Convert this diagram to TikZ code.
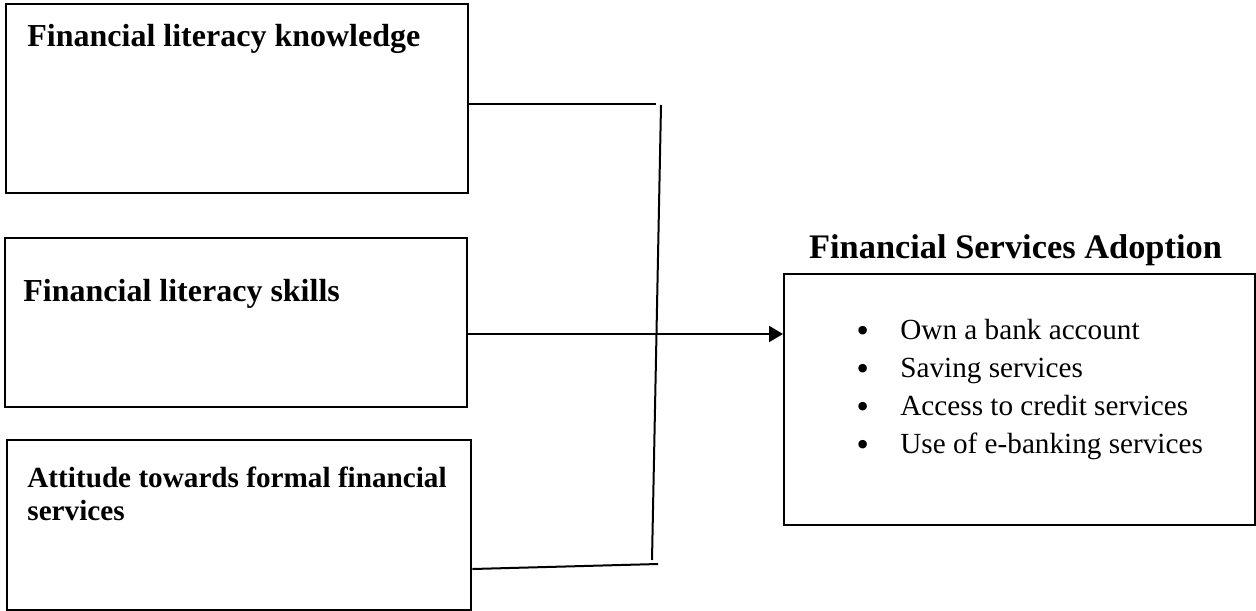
\documentclass[tikz,border=0pt]{standalone}
\usepackage{fontspec}
\setmainfont{Liberation Serif}
\newfontfamily\dejavu{DejaVu Sans}
\usetikzlibrary{arrows.meta}
\tikzset{
	box/.style={draw, line width=1.2pt, anchor=north west, inner sep=0pt},
	lbl/.style={anchor=base west, inner sep=0pt, font=\fontsize{16}{17.5}\selectfont\bfseries, align=left},
	item/.style={anchor=base west, inner sep=0pt, font=\fontsize{14.6}{18}\selectfont},
	link/.style={line width=1pt},
}
\newcommand{\bitem}[1]{\makebox[23pt][l]{\raisebox{-1.2pt}{\dejavu •}}#1}
\begin{document}
\begin{tikzpicture}[x=0.5pt,y=-0.5pt]
	\useasboundingbox (0,0) rectangle (1256,610);
	% left boxes
	\node (kn) [box, minimum width=231pt, minimum height=94.5pt] at (5,3) {};
	\node (kntxt) [lbl] at (27,47) {Financial literacy knowledge};
	\node (sk) [box, minimum width=231pt, minimum height=84.5pt] at (4,237) {};
	\node (sktxt) [lbl] at (23,301) {Financial literacy skills};
	\node (att) [box, minimum width=232pt, minimum height=85pt] at (6,439) {};
	\node (atttxt) [lbl, font=\fontsize{14.6}{16.5}\selectfont\bfseries] at (27,520) {Attitude towards formal financial\\services};
	% right box
	\node (ad) [box, minimum width=235.5pt, minimum height=125.5pt] at (783,273) {};
	\node (adtitle) [anchor=base, inner sep=0pt, font=\fontsize{17.2}{18}\selectfont\bfseries] at (1015.5,258) {Financial Services Adoption};
	\node (i1) [item] at (854,339) {\bitem{Own a bank account}};
	\node (i2) [item] at (854,377) {\bitem{Saving services}};
	\node (i3) [item] at (854,415) {\bitem{Access to credit services}};
	\node (i4) [item] at (854,453) {\bitem{Use of e-banking services}};
	% connectors
	\coordinate (k1) at (656,104);
	\coordinate (vt) at (661,105); \coordinate (vb) at (652,560);
	\coordinate (a0) at (470,569); \coordinate (a1) at (658,564);
	\coordinate (s0) at (466,334);
	\draw[link] (kn.east |- k1) -- (k1);
	\draw[link] (vt) -- (vb);
	\draw[link] (att.east |- a0) -- (a1);
	\draw[link, -{Triangle[length=7pt,width=8pt]}] (sk.east |- s0) -- (ad.west |- s0);
\end{tikzpicture}
\end{document}
